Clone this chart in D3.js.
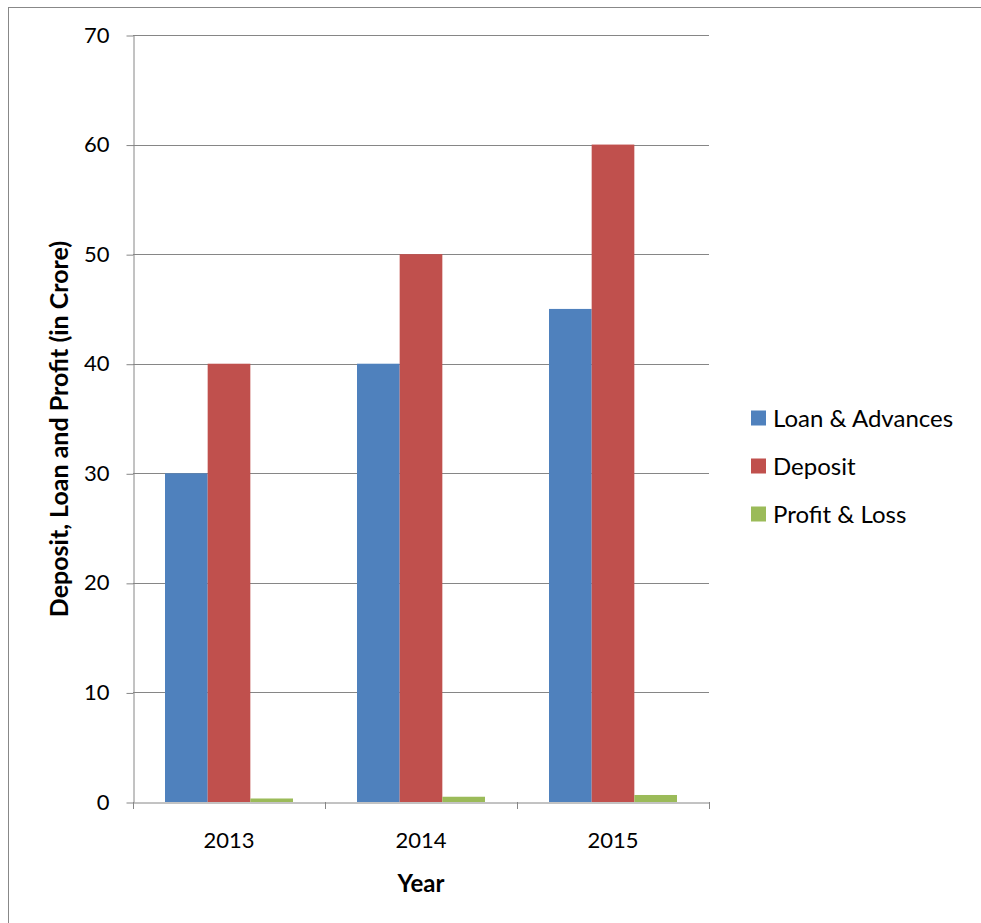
<!DOCTYPE html>
<html><head><meta charset="utf-8">
<script src="https://cdn.jsdelivr.net/npm/d3@7"></script>
<style>body{margin:0;background:#fff}svg{display:block}text{font-family:Lato,"Open Sans",sans-serif}</style>
</head><body>
<svg id="c" width="981" height="923"></svg>
<script>
const years = ["2013","2014","2015"];
const seriesNames = ["Loan & Advances","Deposit","Profit & Loss"];
const loanAdvances = [30,40,45];
const deposit = [40,50,60];
const profitLoss = [0.32,0.48,0.64];
const seriesColors = ["#4F81BD","#C0504D","#9BBB59"];
const yTicks = [0,10,20,30,40,50,60,70];
const seriesValues = [loanAdvances, deposit, profitLoss];

const svg = d3.select("#c");
const L=133, R=709, T=35, B=802;
// outer border
svg.append("rect").attr("x",8.5).attr("y",7.5).attr("width",1000).attr("height",1000).attr("fill","none").attr("stroke","#888").attr("stroke-width",1);

const x = d3.scaleBand().domain(years).range([L,R]).paddingInner(0).paddingOuter(0);
// gap width 150%: band = 4.5 bar widths
const w = x.bandwidth()/4.5;
const y = d3.scaleLinear().domain([0,70]).range([B,T]);

// gridlines
svg.append("g").selectAll("line").data(yTicks.filter(d=>d>0)).join("line")
  .attr("x1",L).attr("x2",R).attr("y1",d=>Math.round(y(d))+0.5).attr("y2",d=>Math.round(y(d))+0.5)
  .attr("stroke","#868686").attr("stroke-width",1);

// bars
years.forEach((yr,i)=>{
  seriesValues.forEach((vals,s)=>{
    const x0 = x(yr) + 0.75*w + s*w;
    svg.append("rect").attr("x",x0).attr("width",w)
      .attr("y",y(vals[i])).attr("height",B-y(vals[i]))
      .attr("fill",seriesColors[s]);
  });
});

// y axis
const ya = d3.axisLeft(y).tickValues(yTicks).tickSize(7).tickSizeOuter(0).tickPadding(17);
const gy = svg.append("g").attr("transform",`translate(${L+0.5},0)`).call(ya);
gy.select(".domain").attr("stroke","#868686");
gy.selectAll(".tick line").attr("stroke","#868686").attr("transform","translate(0,0.5)");
gy.selectAll("text").attr("font-size",22).attr("fill","#000").attr("font-family","Lato,sans-serif");

// x axis
const xa = d3.axisBottom(x).tickSize(0).tickPadding(0);
const gx = svg.append("g").attr("transform",`translate(0,${B+0.5})`).call(xa);
gx.select(".domain").attr("stroke","#868686");
gx.selectAll("text").attr("font-size",22).attr("fill","#000").attr("font-family","Lato,sans-serif")
  .attr("y",45).attr("dy",0);
// category boundary ticks
svg.append("g").selectAll("line").data(years.map(d=>x(d)).concat([R])).join("line")
  .attr("x1",d=>Math.round(d)+0.5).attr("x2",d=>Math.round(d)+0.5).attr("y1",B).attr("y2",B+7)
  .attr("stroke","#868686");

// axis titles
svg.append("text").attr("x",421).attr("y",892).attr("text-anchor","middle")
  .attr("font-size",24).attr("font-weight","bold").text("Year");
svg.append("text").attr("transform",`translate(68,429) rotate(-90)`).attr("text-anchor","middle")
  .attr("font-size",25).attr("font-weight","bold").text("Deposit, Loan and Profit (in Crore)");

// legend
const lg = svg.append("g");
seriesNames.forEach((n,i)=>{
  const cy = 418 + i*48;
  lg.append("rect").attr("x",751).attr("y",cy-7.5).attr("width",15).attr("height",15).attr("fill",seriesColors[i]);
  lg.append("text").attr("x",773).attr("y",cy).attr("dy","0.36em").attr("font-size",24).text(n);
});
</script>
</body></html>
